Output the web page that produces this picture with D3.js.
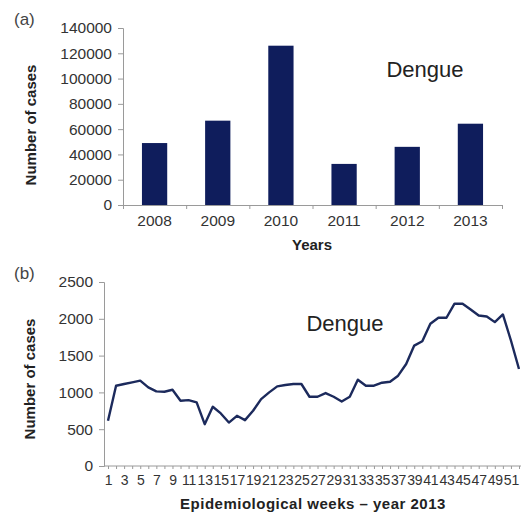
<!DOCTYPE html>
<html>
<head>
<meta charset="utf-8">
<script src="https://cdn.jsdelivr.net/npm/d3@7"></script>
<style>
  html, body { margin: 0; padding: 0; background: #fff; }
  svg { display: block; }
  text { font-family: "Liberation Sans", Arial, sans-serif; }
</style>
</head>
<body>
<svg id="chart" width="523" height="516"></svg>
<script>
// ---- Data ----
const years = ["2008", "2009", "2010", "2011", "2012", "2013"];
const yearCases = [49000, 66700, 126000, 32500, 46000, 64300];
const yearTicks = [0, 20000, 40000, 60000, 80000, 100000, 120000, 140000];

const weeks = d3.range(1, 53);
const weekCases = [614, 1091, 1114, 1136, 1160, 1068, 1014, 1009, 1036, 886,
  895, 864, 568, 805, 714, 590, 682, 623, 750, 909,
  1000, 1082, 1100, 1114, 1114, 941, 941, 991, 941, 877,
  941, 1173, 1091, 1091, 1132, 1145, 1227, 1386, 1636, 1695,
  1932, 2014, 2014, 2205, 2205, 2127, 2045, 2032, 1955, 2059,
  1705, 1318];
const weekTicks = [0, 500, 1000, 1500, 2000, 2500];
const weekLabels = d3.range(1, 53, 2);

const svg = d3.select("#chart");
const axisColor = "#9a9a9a";
const labelColor = "#333";

function styleAxis(g) {
  g.selectAll(".domain").attr("stroke", axisColor).attr("stroke-width", 1);
  g.selectAll(".tick line").attr("stroke", axisColor);
  g.selectAll(".tick text").attr("fill", labelColor)
    .style("font-family", "'Liberation Sans', Arial, sans-serif");
}

// ---- Panel (a) ----
const a = { left: 123, right: 502, top: 28, bottom: 205 };
const xA = d3.scaleBand().domain(years).range([a.left, a.right])
  .paddingInner(0.6).paddingOuter(0.3);
const yA = d3.scaleLinear().domain([0, 140000]).range([a.bottom, a.top]);

svg.append("g").selectAll("rect").data(years).join("rect")
  .attr("x", d => xA(d))
  .attr("y", (d, i) => yA(yearCases[i]))
  .attr("width", xA.bandwidth())
  .attr("height", (d, i) => yA(0) - yA(yearCases[i]))
  .attr("fill", "#0f1d5c");

const gyA = svg.append("g").attr("transform", `translate(${a.left},0)`)
  .call(d3.axisLeft(yA).tickValues(yearTicks).tickFormat(d3.format("d"))
    .tickSize(5).tickPadding(6));
styleAxis(gyA);
gyA.selectAll(".tick text").style("font-size", "15.5px");

// boundary ticks on x axis
const bA = d3.scaleLinear().domain([0, years.length]).range([a.left, a.right]);
const gxA = svg.append("g").attr("transform", `translate(0,${a.bottom})`)
  .call(d3.axisBottom(bA).tickValues(d3.range(0, years.length + 1))
    .tickFormat("").tickSize(4).tickSizeOuter(0));
styleAxis(gxA);
const gxAl = svg.append("g").attr("transform", `translate(0,${a.bottom})`)
  .call(d3.axisBottom(xA).tickSize(0).tickPadding(10));
gxAl.select(".domain").remove();
styleAxis(gxAl);
gxAl.selectAll(".tick text").style("font-size", "15.5px");

svg.append("text").attr("x", 312).attr("y", 250).attr("text-anchor", "middle")
  .attr("font-weight", "bold").attr("font-size", 15).attr("fill", "#222").text("Years");
svg.append("text").attr("transform", `translate(36,125) rotate(-90)`)
  .attr("text-anchor", "middle").attr("font-weight", "bold").attr("font-size", 15)
  .attr("fill", "#222").text("Number of cases");
svg.append("text").attr("x", 425).attr("y", 77).attr("text-anchor", "middle")
  .attr("font-size", 22).attr("fill", "#222").text("Dengue");
svg.append("text").attr("x", 14).attr("y", 25).attr("font-size", 17)
  .attr("fill", "#444").text("(a)");

// ---- Panel (b) ----
const b = { left: 104, right: 521, top: 282, bottom: 466 };
const xB = d3.scaleLinear().domain([1, 52]).range([108, 519]);
const yB = d3.scaleLinear().domain([0, 2500]).range([b.bottom, b.top]);

const gyB = svg.append("g").attr("transform", `translate(${b.left},0)`)
  .call(d3.axisLeft(yB).tickValues(weekTicks).tickFormat(d3.format("d"))
    .tickSize(5).tickPadding(6));
styleAxis(gyB);
gyB.selectAll(".tick text").style("font-size", "15.5px");

const gxB = svg.append("g").attr("transform", `translate(0,${b.bottom})`)
  .call(d3.axisBottom(xB).tickValues(weeks).tickFormat("").tickSize(3).tickSizeOuter(0));
gxB.select(".domain").attr("d", `M${b.left},0H${b.right}`);
styleAxis(gxB);
const gxBl = svg.append("g").attr("transform", `translate(0,${b.bottom})`)
  .call(d3.axisBottom(xB).tickValues(weekLabels).tickFormat(d3.format("d"))
    .tickSize(0).tickPadding(9));
gxBl.select(".domain").remove();
styleAxis(gxBl);
gxBl.selectAll(".tick text").style("font-size", "14px").attr("letter-spacing", "-0.2px");

svg.append("path").datum(weekCases)
  .attr("fill", "none").attr("stroke", "#1c2a5c").attr("stroke-width", 2.4)
  .attr("stroke-linejoin", "round")
  .attr("d", d3.line().x((d, i) => xB(weeks[i])).y(d => yB(d)));

svg.append("text").attr("x", 313).attr("y", 509).attr("text-anchor", "middle")
  .attr("font-weight", "bold").attr("font-size", 15).attr("fill", "#222")
  .attr("letter-spacing", "0.5px")
  .text("Epidemiological weeks \u2013 year 2013");
svg.append("text").attr("transform", `translate(35,379) rotate(-90)`)
  .attr("text-anchor", "middle").attr("font-weight", "bold").attr("font-size", 15)
  .attr("fill", "#222").text("Number of cases");
svg.append("text").attr("x", 345).attr("y", 331).attr("text-anchor", "middle")
  .attr("font-size", 22).attr("fill", "#222").text("Dengue");
svg.append("text").attr("x", 14).attr("y", 279).attr("font-size", 17)
  .attr("fill", "#444").text("(b)");
</script>
</body>
</html>
